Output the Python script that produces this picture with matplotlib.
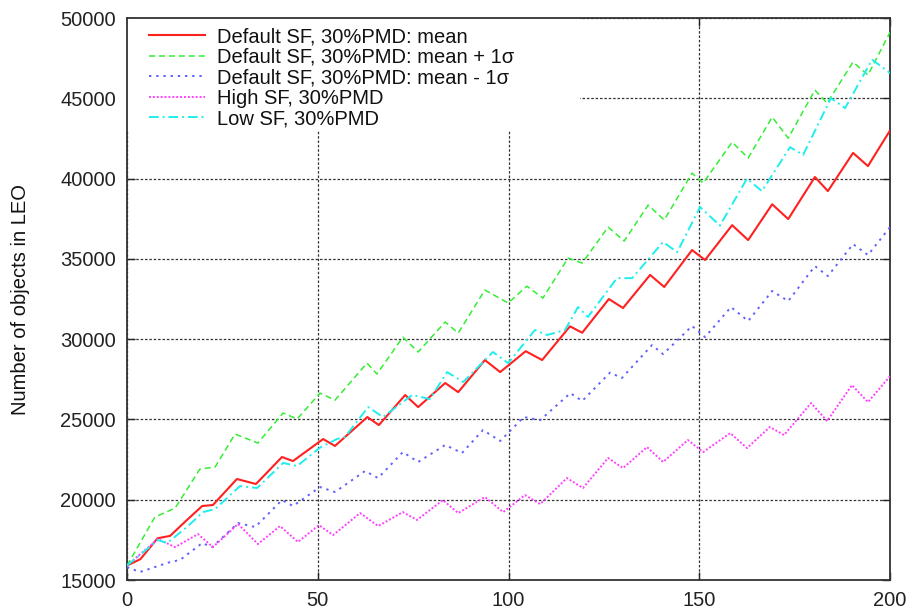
import matplotlib
matplotlib.use('Agg')
import matplotlib.pyplot as plt
from matplotlib.patches import Rectangle

plt.rcParams['font.family'] = ['Liberation Sans', 'DejaVu Sans']

# 数据：峰谷点（年份, LEO目标数）
mean_x = [0, 3.5, 8, 11.3, 15.7, 19.7, 22.5, 28.8, 33.8, 40.6, 43.5, 51.4, 54.5, 63, 66, 72.9, 76.3,
          83.4, 86.8, 93.8, 97.8, 104.5, 108.8, 116.1, 119.3, 126.3, 130, 137.1, 140.8, 148.1, 151.5,
          158.6, 162.8, 169.1, 173.3, 180.3, 183.7, 190.3, 194.2, 200]
mean_y = [15900, 16300, 17600, 17750, 18740, 19610, 19670, 21290, 20980, 22660, 22410, 23780, 23350,
          25150, 24650, 26520, 25770, 27270, 26700, 28700, 27950, 29250, 28700, 30800, 30400, 32500,
          31940, 34000, 33250, 35550, 34930, 37100, 36170, 38400, 37480, 40100, 39220, 41600, 40780, 43000]

plus_x = [0, 7.3, 12.6, 19.1, 23.1, 28.3, 34.3, 40.9, 44.6, 50.6, 54.5, 62.9, 65.5, 72.3, 76.3, 83.4,
          86.8, 93.8, 99.9, 104.8, 109, 115.6, 119.3, 126.1, 130.3, 136.6, 140.8, 148.1, 151, 158.6,
          162.8, 169.1, 173.3, 180.3, 183.5, 190.3, 194.2, 200]
plus_y = [15900, 18920, 19480, 21910, 22040, 24090, 23530, 25400, 25030, 26640, 26200, 28510, 27830,
          30130, 29200, 31070, 30380, 33060, 32250, 33300, 32560, 35050, 34740, 36980, 36110, 38350,
          37420, 40340, 39720, 42270, 41280, 43830, 42520, 45510, 44700, 47260, 46450, 49120]

minus_x = [0, 3.4, 11.3, 13.9, 19.7, 22.3, 29.1, 33.6, 40.6, 43.5, 50.6, 54.5, 62.4, 65.8, 72.3, 76.3,
           83.4, 87.8, 93.3, 97.8, 104, 108.3, 116.2, 119.3, 126.6, 129.7, 137.6, 140.5, 148.1, 151.5,
           158.3, 162.8, 169.1, 173.3, 180.3, 183.7, 190.3, 194.2, 200]
minus_y = [15800, 15500, 16120, 16250, 17300, 17050, 18550, 18300, 19980, 19610, 20790, 20480, 21790,
           21350, 22970, 22350, 23410, 22910, 24340, 23660, 25150, 24960, 26640, 26150, 27920, 27580,
           29630, 29070, 30820, 30130, 32000, 31130, 33000, 32370, 34550, 33930, 35920, 35240, 36980]

high_x = [0, 8.1, 12.6, 18.6, 22.5, 29.1, 34.3, 40.1, 44.8, 50.3, 54, 61.1, 65.8, 72.3, 76, 82.8, 86.8,
          93.8, 98.6, 104.3, 108.3, 115.3, 119.5, 126.1, 130, 136.3, 140.5, 147, 151, 158.1, 162.5,
          168.5, 172.2, 179.3, 183.5, 190, 194.2, 200]
high_y = [15900, 17550, 17050, 17860, 17050, 18490, 17240, 18360, 17370, 18420, 17800, 19170, 18360,
          19230, 18740, 19980, 19170, 20170, 19230, 20290, 19730, 21350, 20730, 22600, 21970, 23280,
          22350, 23720, 22970, 24150, 23220, 24530, 24030, 26020, 24900, 27140, 26080, 27700]

low_x = [0, 8.1, 10.5, 15.7, 19.9, 23.1, 29.6, 34.1, 40.9, 44.6, 50.6, 55, 57.1, 63.2, 67.1, 74.7, 79.4,
         83.9, 88.1, 95.9, 99.9, 106.9, 110.1, 114.8, 118.2, 120.8, 128.4, 132.4, 140.5, 144.2, 150.2,
         155.4, 162.5, 166.4, 173.8, 177.2, 184.5, 188.2, 195.3, 200]
low_y = [15900, 17490, 17300, 18300, 19230, 19420, 20850, 20730, 22290, 22100, 23250, 23780, 23900,
         25770, 25150, 26520, 26270, 27950, 27330, 29200, 28510, 30570, 30260, 30570, 32000, 31380,
         33800, 33800, 36050, 35420, 38230, 37070, 40000, 39220, 41960, 41470, 45010, 44390, 47410, 46570]

labels = ['Default SF, 30%PMD: mean',
          'Default SF, 30%PMD: mean + 1σ',
          'Default SF, 30%PMD: mean - 1σ',
          'High SF, 30%PMD',
          'Low SF, 30%PMD']

fig = plt.figure(figsize=(9.1, 6.11), dpi=100)
ax = fig.add_axes([0.1396, 0.0507, 0.8385, 0.9198])

ax.plot(mean_x, mean_y, color='#ff2020', lw=1.5, ls='-', label=labels[0], zorder=5)
ax.plot(plus_x, plus_y, color='#33ee33', lw=1.1, ls=(0, (4, 2.5)), label=labels[1], zorder=5)
ax.plot(minus_x, minus_y, color='#6060ff', lw=1.4, ls=(0, (1.2, 2.5)), label=labels[2], zorder=5)
ax.plot(high_x, high_y, color='#ff40ff', lw=1.4, ls=(0, (1, 1)), label=labels[3], zorder=5)
ax.plot(low_x, low_y, color='#20eeee', lw=1.4, ls=(0, (5, 2, 1, 2)), label=labels[4], zorder=5)

ax.set_xlim(0, 200)
ax.set_ylim(15000, 50000)
ax.set_xticks([0, 50, 100, 150, 200])
ax.set_yticks(range(15000, 50001, 5000))
ax.tick_params(direction='in', length=6, width=1, top=True, right=True,
               labelsize=14.5, pad=8, colors='#222222')
ax.set_ylabel('Number of objects in LEO', fontsize=14.5, color='#111111', labelpad=22)

ax.grid(True, color='#333333', lw=0.9, ls=(0, (2, 1.5)), zorder=1)
for s in ax.spines.values():
    s.set_color('#333333')
    s.set_linewidth(1.3)

# 图例背景：白色方块盖住网格
ax.add_patch(Rectangle((0.0, 0.80), 0.594, 0.2, transform=ax.transAxes,
                       facecolor='white', edgecolor='none', zorder=2))
leg = ax.legend(loc='upper left', bbox_to_anchor=(0.017, 1.0), frameon=False, fontsize=14.5,
                handlelength=2.8, handletextpad=0.55, labelspacing=0.08, borderaxespad=0.05)
for t in leg.get_texts():
    t.set_color('#111111')

fig.savefig('out.png', dpi=100)
